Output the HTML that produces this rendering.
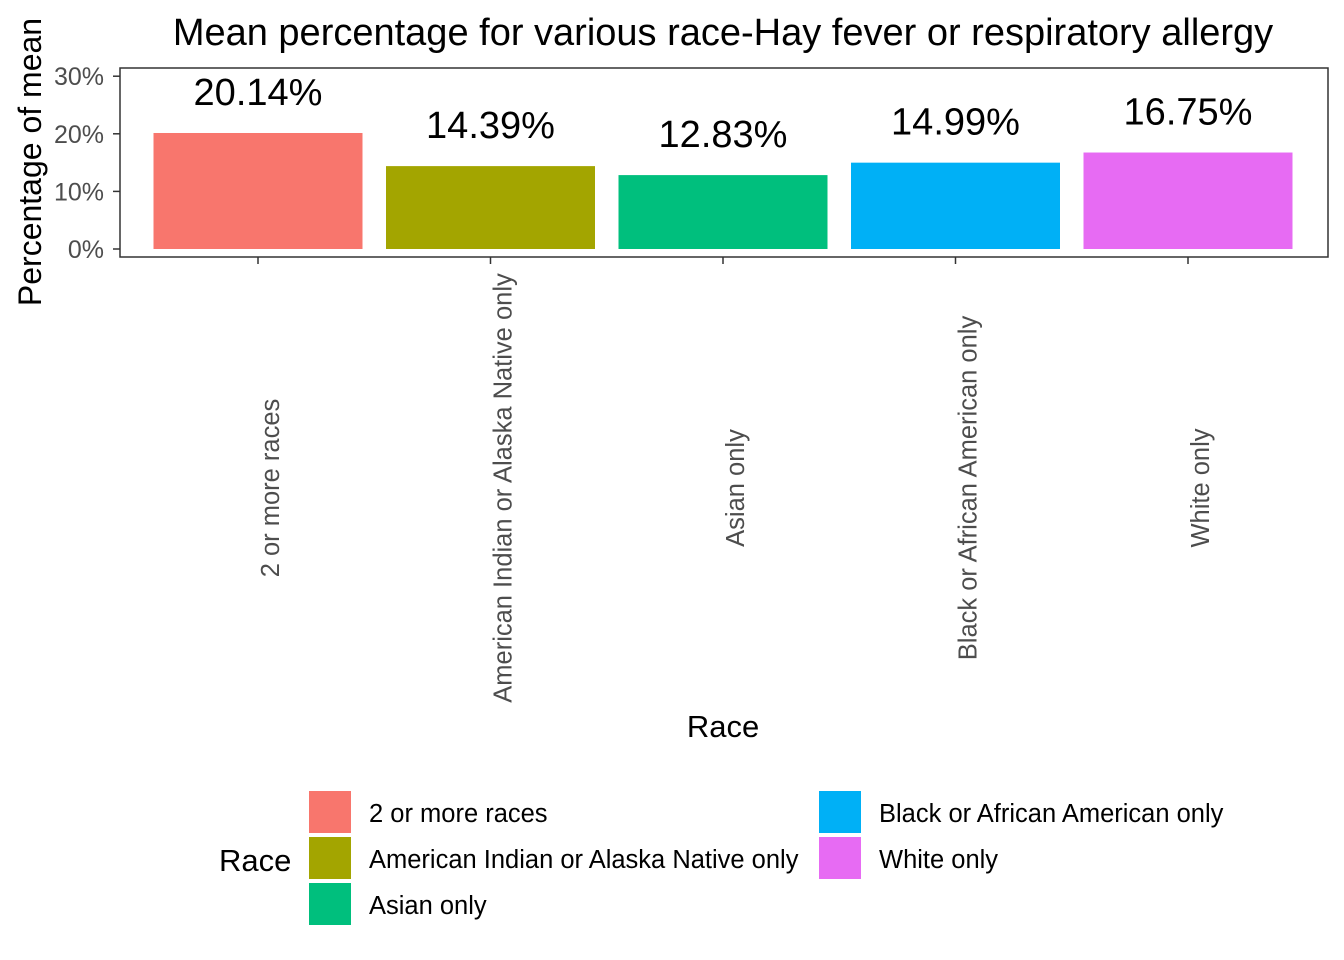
<!DOCTYPE html>
<html><head><meta charset="utf-8"><style>
body{margin:0;background:#fff;}
svg{display:block;font-family:"Liberation Sans",Arial,sans-serif;}
</style></head><body>
<svg id="chart" width="1344" height="960">
<text x="723" y="45" font-size="38" text-anchor="middle" fill="#000">Mean percentage for various race-Hay fever or respiratory allergy</text>
<text transform="translate(41,162) rotate(-90)" font-size="32" text-anchor="middle" fill="#000">Percentage of mean</text>
<text x="723" y="737" font-size="31" text-anchor="middle" fill="#000">Race</text>
<g id="yaxis"></g>
<g id="bars"></g>
<g id="xaxis"></g>
<rect x="120" y="68" width="1208" height="189" fill="none" stroke="#333" stroke-width="1.5"/>
<g id="legend">
<text x="219" y="871" font-size="31" fill="#000">Race</text>
</g>
</svg>
<script>
const categories = ["2 or more races","American Indian or Alaska Native only","Asian only","Black or African American only","White only"];
const values = [20.14, 14.39, 12.83, 14.99, 16.75];
const yTicks = [0, 10, 20, 30];
const colors = ["#F8766D","#A3A500","#00BF7D","#00B0F6","#E76BF3"];

const NS = "http://www.w3.org/2000/svg";
function mk(tag, attrs, parent){const e=document.createElementNS(NS,tag);for(const k in attrs)e.setAttribute(k,attrs[k]);parent.appendChild(e);return e;}
const y = v => 249 - v*5.76;
const step = 232.5, bw = 209;
const x = i => 258 + i*step;

const ya = document.getElementById('yaxis');
yTicks.forEach(t=>{
  const l = mk('line',{x1:113,x2:120,y1:y(t),y2:y(t),stroke:'#333','stroke-width':1.5},ya);
  
  
  const tx = mk('text',{x:104,y:y(t)+9,'font-size':25,'text-anchor':'end',fill:'#4d4d4d'},ya);
  tx.textContent = t+'%';
  
  
});

const bg = document.getElementById('bars');
const xa = document.getElementById('xaxis');
const lg = document.getElementById('legend');
categories.forEach((c,i)=>{
  const r = mk('rect',{x:x(i)-bw/2,y:y(values[i]),width:bw,height:y(0)-y(values[i]),fill:colors[i]},bg);
  
  
  const lb = mk('text',{x:x(i),y:y(values[i])-28,'font-size':38,'text-anchor':'middle',fill:'#000'},bg);
  lb.textContent = values[i].toFixed(2)+'%';
  
  
  const tk = mk('line',{x1:x(i),x2:x(i),y1:257,y2:264,stroke:'#333','stroke-width':1.5},xa);
  
  
  const xl = mk('text',{transform:'translate('+(x(i)+21)+',488) rotate(-90)','font-size':25.5,'text-anchor':'middle',fill:'#4d4d4d'},xa);
  xl.textContent = c;
  
  
  const col = i<3?0:1, row = i<3?i:i-3;
  const lx = col?819:309, ly = 791+row*46;
  const k = mk('rect',{x:lx,y:ly,width:42,height:42,fill:colors[i]},lg);
  
  
  const lt = mk('text',{x:lx+60,y:ly+31,'font-size':25.5,fill:'#000'},lg);
  lt.textContent = c;
  
  
});
</script>
</body></html>
